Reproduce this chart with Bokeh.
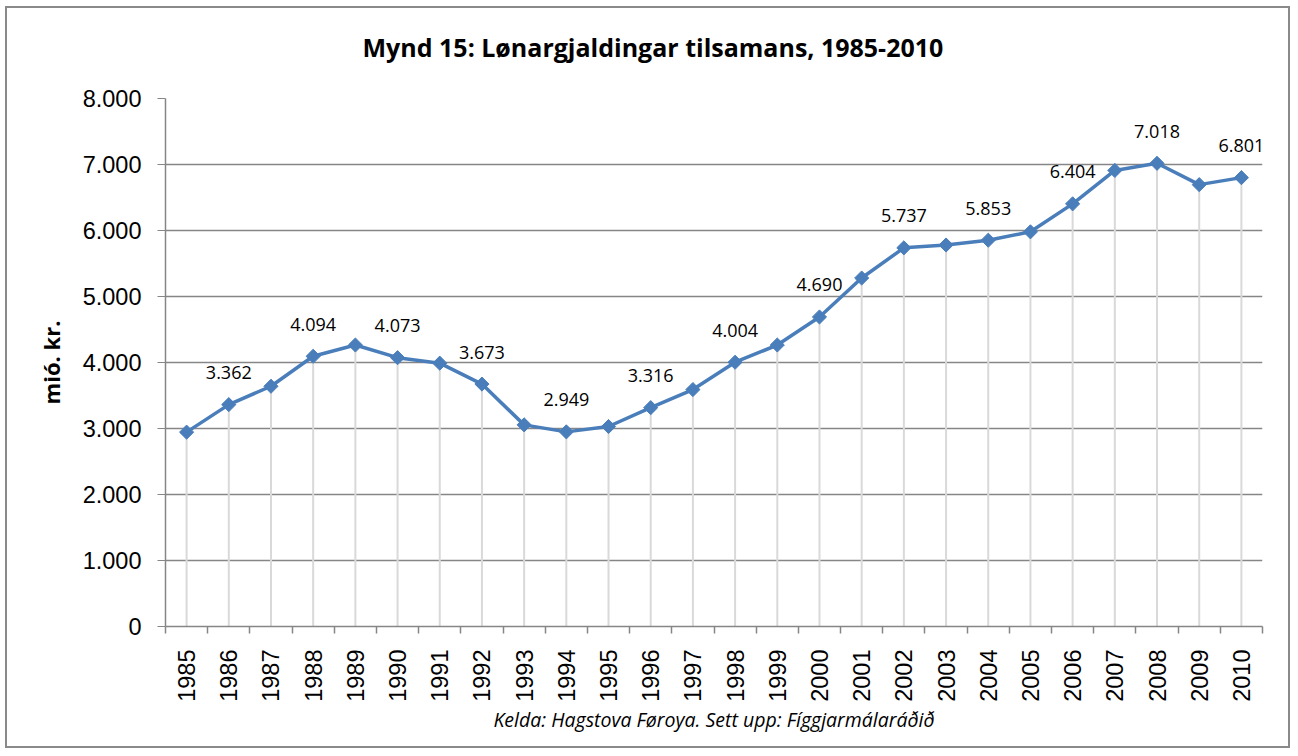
from math import pi
from bokeh.plotting import figure
from bokeh.models import Range1d, FixedTicker, Title, ColumnDataSource
from bokeh.core.properties import value
from bokeh.embed import file_html
from bokeh.resources import INLINE

years = list(range(1985, 2011))
values = [2945, 3362, 3640, 4094, 4265, 4073, 3990, 3673, 3055, 2949, 3030, 3316, 3590,
          4004, 4265, 4690, 5280, 5737, 5780, 5853, 5980, 6404, 6910, 7018, 6695, 6801]
label_years = [1986, 1988, 1990, 1992, 1994, 1996, 1998, 2000, 2002, 2004, 2006, 2008, 2010]
y_ticks = [0, 1000, 2000, 3000, 4000, 5000, 6000, 7000, 8000]
y_tick_labels = ["0", "1.000", "2.000", "3.000", "4.000", "5.000", "6.000", "7.000", "8.000"]
title_text = "Mynd 15: Lønargjaldingar tilsamans, 1985-2010"
y_axis_title = "mió. kr."
source_text = "Kelda: Hagstova Føroya. Sett upp: Fíggjarmálaráðið"


def fmt(v):
    return f"{v:,}".replace(",", ".")


label_values = [values[years.index(y)] for y in label_years]
label_texts = [fmt(v) for v in label_values]

TICK_FONT = "Liberation Sans"
TEXT_FONT = "Open Sans"
AXIS_COLOR = "#868686"

p = figure(width=1285, height=742, output_backend="svg", toolbar_location=None, title=None,
           x_range=Range1d(years[0] - 0.5, years[-1] + 0.5), y_range=Range1d(0, 8000),
           min_border_left=158, min_border_right=30, min_border_top=90, min_border_bottom=124)
p.styles = {"border": "2px solid #8a8a8a", "margin": "6px 0 0 5px"}
p.outline_line_color = None
p.background_fill_color = "white"
p.border_fill_color = "white"

# y axis
p.yaxis.ticker = FixedTicker(ticks=y_ticks)
p.yaxis.major_label_overrides = {t: l for t, l in zip(y_ticks, y_tick_labels)}
p.yaxis.major_tick_out = 8
p.yaxis.major_tick_in = 0
p.yaxis.minor_tick_out = 0
p.yaxis.minor_tick_in = 0
p.yaxis.axis_line_color = AXIS_COLOR
p.yaxis.major_tick_line_color = AXIS_COLOR
p.yaxis.axis_line_width = 1.5
p.yaxis.major_label_text_font = TICK_FONT
p.yaxis.major_label_text_font_size = "23.5px"
p.yaxis.major_label_text_color = "black"
p.yaxis.major_label_standoff = 16
p.yaxis.axis_label = y_axis_title
p.yaxis.axis_label_text_font = TEXT_FONT
p.yaxis.axis_label_text_font_style = "bold"
p.yaxis.axis_label_text_font_size = "22px"
p.yaxis.axis_label_text_color = "black"
p.yaxis.axis_label_standoff = 14

# x axis
boundaries = [y - 0.5 for y in years] + [years[-1] + 0.5]
p.xaxis.ticker = FixedTicker(ticks=years, minor_ticks=boundaries)
p.xaxis.major_tick_out = 0
p.xaxis.major_tick_in = 0
p.xaxis.minor_tick_out = 7
p.xaxis.minor_tick_in = 0
p.xaxis.minor_tick_line_color = AXIS_COLOR
p.xaxis.minor_tick_line_width = 1.5
p.xaxis.axis_line_color = AXIS_COLOR
p.xaxis.axis_line_width = 1.5
p.xaxis.major_label_orientation = pi / 2
p.xaxis.major_label_text_font = TICK_FONT
p.xaxis.major_label_text_font_size = "23.5px"
p.xaxis.major_label_text_color = "black"
p.xaxis.major_label_standoff = 16

# grid
p.xgrid.grid_line_color = None
p.ygrid.ticker = FixedTicker(ticks=y_ticks)
p.ygrid.grid_line_color = AXIS_COLOR
p.ygrid.grid_line_width = 1.5

src = ColumnDataSource(dict(x=years, y=values, y0=[0] * len(years)))
p.segment(x0="x", y0="y0", x1="x", y1="y", source=src, line_color="#d9d9d9", line_width=2)
p.line(x="x", y="y", source=src, line_color="#4a7ebb", line_width=3.5)
p.scatter(x="x", y="y", source=src, marker="square", angle=pi / 4, size=10,
          fill_color="#4a7ebb", line_color="#4a7ebb")

lsrc = ColumnDataSource(dict(x=label_years, y=label_values, t=label_texts))
p.text(x="x", y="y", text="t", source=lsrc, y_offset=-32, text_align="center",
       text_baseline="middle", text_font=value(TEXT_FONT), text_font_size="18px",
       text_color="black")

# titles: spacer closest to frame, then main title above it
spacer = Title(text=" ", text_font_size="1px", standoff=13)
main_title = Title(text=title_text, align="left", offset=197, vertical_align="middle",
                   text_font=TEXT_FONT, text_font_style="bold", text_font_size="25px",
                   text_color="black", standoff=36)
p.add_layout(spacer, "above")
p.add_layout(main_title, "above")

src_title = Title(text=source_text, align="center", vertical_align="middle",
                  text_font=TEXT_FONT, text_font_style="italic", text_font_size="19.5px",
                  text_color="black", standoff=0)
p.add_layout(src_title, "below")

open("out.html", "w").write(file_html(p, INLINE))
